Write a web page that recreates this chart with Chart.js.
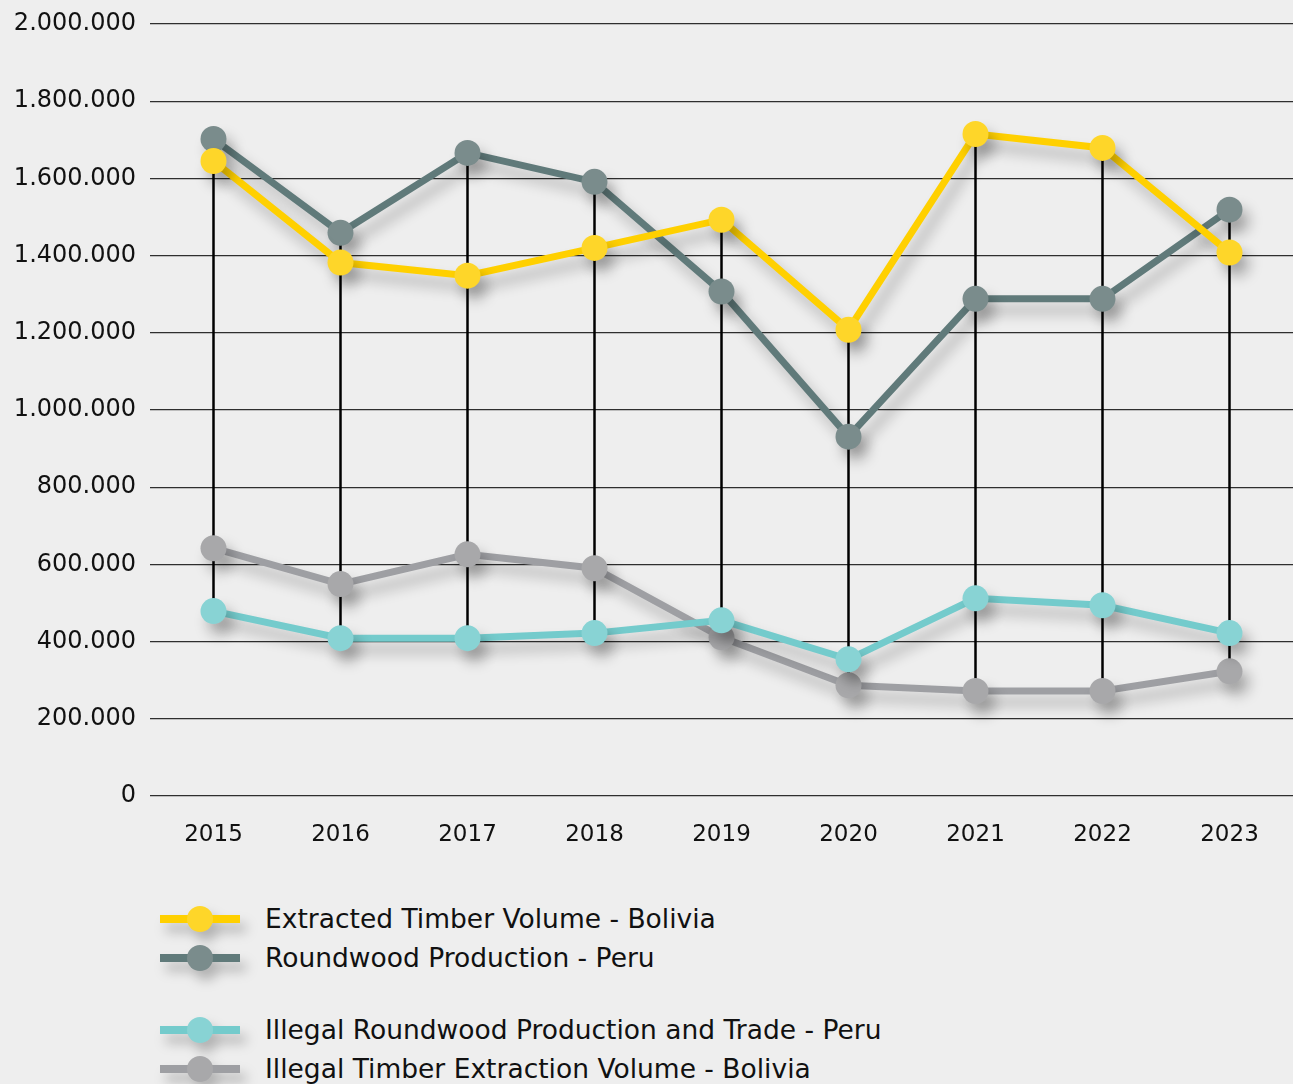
<!DOCTYPE html>
<html>
<head>
<meta charset="utf-8">
<script src="https://cdn.jsdelivr.net/npm/chart.js@4.4.1/dist/chart.umd.min.js"></script>
<style>
  html, body { margin: 0; padding: 0; background: #eeeeee; }
  body { width: 1293px; height: 1084px; overflow: hidden; font-family: "DejaVu Sans", sans-serif; }
  #wrap { position: relative; width: 1293px; height: 856px; }
  #legend { position: absolute; left: 160px; top: 899px; color: #111; font-size: 26.5px; }
  .item { display: flex; align-items: center; height: 39px; }
  .gap { height: 33px; }
  .swatch { position: relative; width: 80px; height: 30px; margin-right: 25px; filter: drop-shadow(6px 9px 6px rgba(0,0,0,0.25)); }
  .swatch .bar { position: absolute; left: 0; right: 0; top: 11px; height: 8px; }
  .swatch .dot { position: absolute; left: 27px; top: 2px; width: 26px; height: 26px; border-radius: 50%; }
</style>
</head>
<body>
<div id="wrap"><canvas id="chart"></canvas></div>
<div id="legend"></div>
<script>
const years = ['2015', '2016', '2017', '2018', '2019', '2020', '2021', '2022', '2023'];

// cubic metres per year
const extractedBolivia = [1645000, 1382000, 1348000, 1420000, 1493000, 1208000, 1715000, 1679000, 1408000];
const roundwoodPeru = [1702000, 1459000, 1666000, 1591000, 1307000, 931000, 1288000, 1288000, 1519000];
const illegalRoundwoodPeru = [479000, 409000, 409000, 422000, 455000, 354000, 512000, 494000, 422000];
const illegalExtractionBolivia = [642000, 549000, 626000, 590000, 411000, 287000, 272000, 272000, 323000];

const seriesNames = [
  'Extracted Timber Volume - Bolivia',
  'Roundwood Production - Peru',
  'Illegal Roundwood Production and Trade - Peru',
  'Illegal Timber Extraction Volume - Bolivia'
];
const lineColors = ['#ffd000', '#607a7a', '#74cbcc', '#9e9fa3'];
const dotColors = ['#fed629', '#7a8c8c', '#88d3d4', '#a8a8aa'];

const formatThousands = (v) => v.toString().replace(/\B(?=(\d{3})+(?!\d))/g, '.');

const makeSet = (i, values) => ({
  label: seriesNames[i],
  data: values,
  borderColor: lineColors[i],
  backgroundColor: dotColors[i],
  pointBackgroundColor: dotColors[i],
  pointBorderWidth: 0,
  pointRadius: 13,
  pointHoverRadius: 13,
  borderWidth: 7,
  tension: 0
});

// black high-low line for each year, drawn under the series
const highLowLines = {
  id: 'highLowLines',
  beforeDatasetsDraw(chart) {
    const { ctx, scales } = chart;
    const sets = chart.data.datasets;
    ctx.save();
    ctx.strokeStyle = '#000';
    ctx.lineWidth = 2.5;
    years.forEach((_, i) => {
      const vals = sets.map(d => d.data[i]);
      const x = scales.x.getPixelForValue(i);
      ctx.beginPath();
      ctx.moveTo(x, scales.y.getPixelForValue(Math.max(...vals)));
      ctx.lineTo(x, scales.y.getPixelForValue(Math.min(...vals)));
      ctx.stroke();
    });
    ctx.restore();
  }
};

// soft drop shadow under every series
const dropShadow = {
  id: 'dropShadow',
  beforeDatasetDraw(chart) {
    const ctx = chart.ctx;
    ctx.save();
    ctx.shadowColor = 'rgba(0,0,0,0.28)';
    ctx.shadowBlur = 14;
    ctx.shadowOffsetX = 7;
    ctx.shadowOffsetY = 11;
  },
  afterDatasetDraw(chart) {
    chart.ctx.restore();
  }
};

const chart = new Chart(document.getElementById('chart'), {
  type: 'line',
  data: {
    labels: years,
    datasets: [
      makeSet(0, extractedBolivia),
      makeSet(1, roundwoodPeru),
      makeSet(2, illegalRoundwoodPeru),
      makeSet(3, illegalExtractionBolivia)
    ]
  },
  options: {
    responsive: true,
    maintainAspectRatio: false,
    animation: false,
    layout: { autoPadding: false, padding: { top: 24, right: 0, left: 0, bottom: 0 } },
    plugins: {
      legend: { display: false },
      tooltip: { enabled: false }
    },
    scales: {
      x: {
        offset: true,
        grid: { display: false, drawTicks: false },
        border: { display: false },
        ticks: { color: '#111', font: { family: 'DejaVu Sans', size: 23 }, padding: 25 },
        afterFit: (scale) => {
          scale.height = 60;
          scale.paddingLeft = 0;
          scale.paddingRight = 0;
        }
      },
      y: {
        min: 0,
        max: 2000000,
        border: { display: false },
        grid: { color: '#2e2e2e', lineWidth: 1.3, drawTicks: false },
        ticks: {
          stepSize: 200000,
          color: '#111',
          font: { family: 'DejaVu Sans', size: 24 },
          padding: 14,
          callback: (v) => formatThousands(v)
        },
        afterFit: (scale) => {
          scale.width = 150;
          scale.paddingTop = 0;
          scale.paddingBottom = 0;
        }
      }
    }
  },
  plugins: [highLowLines, dropShadow]
});

// legend in two groups: official volumes, then illegal volumes
const legend = document.getElementById('legend');
chart.data.datasets.forEach((d, i) => {
  if (i === 2) {
    const gap = document.createElement('div');
    gap.className = 'gap';
    legend.appendChild(gap);
  }
  const item = document.createElement('div');
  item.className = 'item';
  item.innerHTML =
    '<div class="swatch"><div class="bar" style="background:' + d.borderColor + '"></div>' +
    '<div class="dot" style="background:' + d.pointBackgroundColor + '"></div></div>' +
    '<span>' + d.label + '</span>';
  legend.appendChild(item);
});
</script>
</body>
</html>
